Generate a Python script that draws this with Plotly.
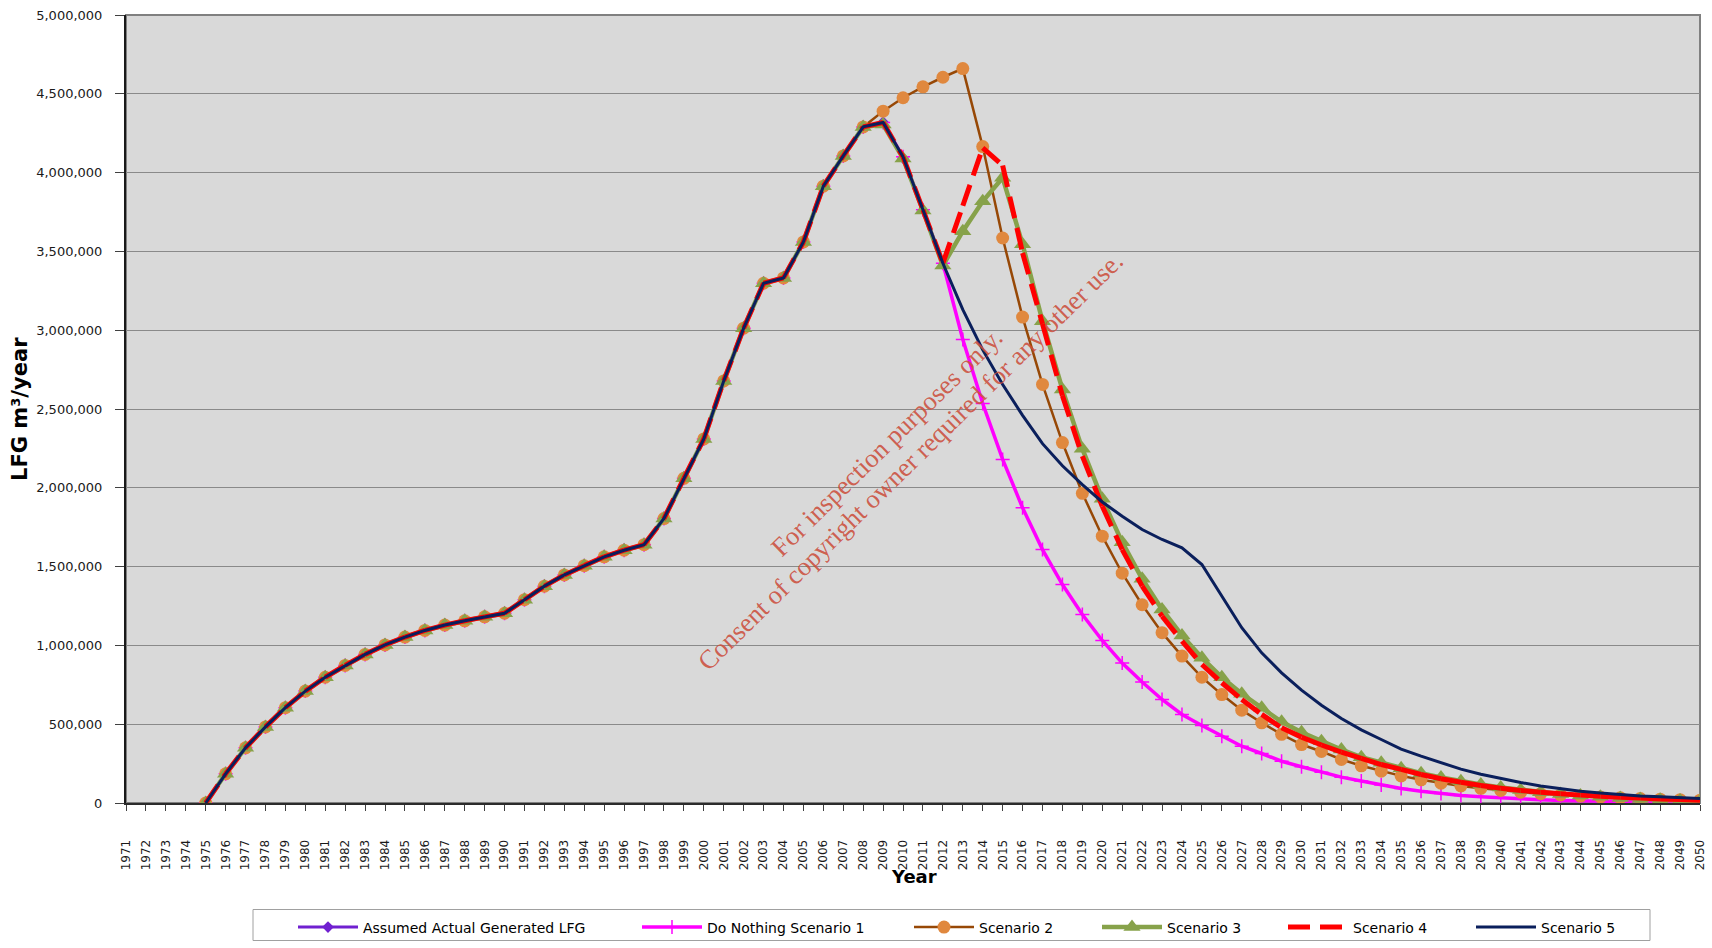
import plotly.graph_objects as go

# ---- data -------------------------------------------------------------
all_years = list(range(1971, 2051))
hist_years = list(range(1975, 2009))          # shared history
proj_years = list(range(2009, 2051))          # scenario period

history = [
    0, 185000, 350000, 483000, 605000, 710000, 798000, 873000, 943000, 1003000,
    1053000, 1095000, 1129000, 1156000, 1181000, 1204000, 1290000, 1376000,
    1447000, 1506000, 1562000, 1604000, 1639000, 1805000, 2060000, 2310000,
    2678000, 3013000, 3298000, 3332000, 3560000, 3914000, 4106000, 4290000,
]

actual_2009_2010 = [4320000, 4092000]

scenario1 = [
    4318000, 4100000, 3764000, 3425000, 2941000, 2535000, 2180000, 1873000,
    1608000, 1386000, 1196000, 1031000, 888000, 768000, 657000, 562000, 492000,
    424000, 360000, 314000, 265000, 230000, 195000, 164000, 140000, 115000,
    92000, 75000, 60000, 48000, 39000, 31000, 25000, 20000, 16000, 13000, 11000,
    9000, 7000, 6000, 5000, 4000,
]

scenario2 = [
    4390000, 4475000, 4544000, 4605000, 4660000, 4165000, 3585000, 3083000,
    2656000, 2287000, 1965000, 1693000, 1458000, 1258000, 1081000, 932000,
    798000, 688000, 589000, 509000, 436000, 371000, 327000, 276000, 236000,
    202000, 172000, 147000, 126000, 108000, 93000, 80000, 69000, 59000, 51000,
    44000, 38000, 33000, 28000, 24000, 21000, 18000,
]

scenario3 = [
    4305000, 4090000, 3760000, 3410000, 3628000, 3818000, 3967000, 3545000,
    3057000, 2624000, 2247000, 1930000, 1655000, 1423000, 1228000, 1063000,
    921000, 798000, 693000, 604000, 515000, 449000, 392000, 339000, 291000,
    255000, 220000, 189000, 162000, 138000, 117000, 98000, 82000, 68000, 57000,
    47000, 39000, 32000, 26000, 21000, 16000, 12000,
]

scenario4 = [
    4318000, 4100000, 3764000, 3425000, 3790000, 4157000, 4045000, 3490000,
    3040000, 2585000, 2201000, 1883000, 1608000, 1376000, 1185000, 1027000,
    879000, 763000, 657000, 562000, 477000, 418000, 368000, 323000, 283000,
    244000, 213000, 181000, 154000, 132000, 111000, 94000, 79000, 68000, 58000,
    50000, 43000, 37000, 31000, 26000, 22000, 18000,
]

scenario5 = [
    4318000, 4100000, 3764000, 3425000, 3130000, 2875000, 2655000, 2460000,
    2280000, 2140000, 2020000, 1910000, 1820000, 1735000, 1672000, 1619000,
    1513000, 1312000, 1112000, 953000, 826000, 716000, 620000, 536000, 464000,
    403000, 342000, 297000, 255000, 215000, 182000, 155000, 130000, 108000,
    90000, 75000, 63000, 53000, 45000, 39000, 33000, 29000,
]

y_ticks = list(range(0, 5000001, 500000))

# ---- styling ----------------------------------------------------------
FONT = "Verdana, DejaVu Sans, sans-serif"
SERIF = "Liberation Serif, Times New Roman, serif"
PLOT_BG = "#D9D9D9"
GRID = "#8A8A8A"
WATERMARK = "rgba(204,80,62,0.9)"

# pixel geometry of the plot area inside the 1712x948 page
L, R, T, B = 126, 1700, 15.5, 803.5


def px(xp):
    return (xp - L) / (R - L)


def py(yp):
    return (B - yp) / (B - T)


fig = go.Figure()


def full(proj):
    return hist_years + proj_years[:len(proj)], history + proj


# Assumed actual (purple, diamonds)
x, y = full(actual_2009_2010)
fig.add_trace(go.Scatter(
    x=x, y=y, name="Assumed Actual Generated LFG", mode="lines+markers",
    line=dict(color="#7020D0", width=3),
    marker=dict(symbol="diamond", size=9, color="#7020D0"),
    legendwidth=269,
))

# Do Nothing Scenario 1 (magenta, thin crosses)
x, y = full(scenario1)
fig.add_trace(go.Scatter(
    x=x, y=y, name="Do Nothing Scenario 1", mode="lines+markers",
    line=dict(color="#FF00FF", width=3.5),
    marker=dict(symbol="cross-thin", size=10, line=dict(color="#FF00FF", width=1.5)),
    legendwidth=197,
))

# Scenario 2 (brown line, orange circles)
x, y = full(scenario2)
fig.add_trace(go.Scatter(
    x=x, y=y, name="Scenario 2", mode="lines+markers",
    line=dict(color="#974806", width=2.5),
    marker=dict(symbol="circle", size=13, color="#E0883E"),
    legendwidth=113,
))

# Scenario 3 (olive green, triangles)
x, y = full(scenario3)
fig.add_trace(go.Scatter(
    x=x, y=y, name="Scenario 3", mode="lines+markers",
    line=dict(color="#87A24A", width=4.5),
    marker=dict(symbol="triangle-up", size=15, color="#87A24A"),
    legendwidth=111,
))

# Scenario 4 (red dashed) - each year-to-year segment is its own sub-path,
# so the dash pattern starts afresh on every segment
x4, y4 = full(scenario4)
seg_x, seg_y = [], []
for i in range(len(x4) - 1):
    seg_x += [x4[i], x4[i + 1], None]
    seg_y += [y4[i], y4[i + 1], None]
fig.add_trace(go.Scatter(
    x=seg_x, y=seg_y, name="Scenario 4", mode="lines", connectgaps=False,
    line=dict(color="#FF0000", width=5, dash="22px,10px"),
    legendwidth=113,
))

# Scenario 5 (navy)
x, y = full(scenario5)
fig.add_trace(go.Scatter(
    x=x, y=y, name="Scenario 5", mode="lines",
    line=dict(color="#0A1F5C", width=3),
    legendwidth=108,
))

# ---- layout -----------------------------------------------------------
fig.update_layout(
    width=1712, height=948,
    margin=dict(l=126, r=12, t=15, b=145, autoexpand=False),
    paper_bgcolor="white",
    plot_bgcolor=PLOT_BG,
    font=dict(family=FONT, size=13, color="#1a1a1a"),
    showlegend=True,
    legend=dict(
        orientation="h", x=px(293), xanchor="left", y=py(928), yanchor="middle",
        bgcolor="rgba(0,0,0,0)", borderwidth=0, itemwidth=60,
        font=dict(family=FONT, size=14, color="#000000"),
        traceorder="normal",
    ),
    xaxis=dict(
        range=[1971, 2050], tickmode="array", tickvals=all_years,
        ticktext=[str(v) for v in all_years], tickangle=-90,
        ticks="outside", ticklen=6, tickcolor="#404040",
        ticklabelstandoff=24, automargin=False,
        showgrid=False, zeroline=False,
        showline=True, linecolor="#2b2b2b", linewidth=2,
        tickfont=dict(family=FONT, size=12, color="#1a1a1a"),
    ),
    yaxis=dict(
        range=[0, 5000000], tickmode="array", tickvals=y_ticks,
        ticktext=[f"{v:,}" for v in y_ticks],
        ticks="outside", ticklen=9, tickcolor="#404040",
        ticklabelstandoff=10, automargin=False,
        showgrid=True, gridcolor=GRID, gridwidth=1, zeroline=False,
        showline=True, linecolor="#1a1a1a", linewidth=2,
        tickfont=dict(family=FONT, size=13, color="#1a1a1a"),
    ),
    shapes=[
        # plot-area frame
        dict(type="rect", xref="paper", yref="paper", x0=0, x1=1, y0=0, y1=1,
             line=dict(color="#808080", width=2), layer="below"),
        # legend frame
        dict(type="rect", xref="paper", yref="paper",
             x0=px(253), x1=px(1650), y0=py(941), y1=py(910),
             line=dict(color="#A0A0A0", width=1), fillcolor="white", layer="below"),
    ],
    annotations=[
        dict(text="<b>Year</b>", xref="paper", yref="paper",
             x=px(914), y=py(877), xanchor="center", yanchor="middle",
             showarrow=False, font=dict(family=FONT, size=18, color="#000000")),
        dict(text="<b>LFG m³/year</b>", xref="paper", yref="paper",
             x=px(20), y=py(409.5), xanchor="center", yanchor="middle",
             textangle=-90, showarrow=False,
             font=dict(family=FONT, size=21, color="#000000")),
        dict(text="For inspection purposes only.",
             xref="paper", yref="paper", x=px(887), y=py(443),
             xanchor="center", yanchor="middle", textangle=-44.5, showarrow=False,
             font=dict(family=SERIF, size=26.5, color=WATERMARK)),
        dict(text="Consent of copyright owner required for any other use.",
             xref="paper", yref="paper", x=px(910), y=py(461),
             xanchor="center", yanchor="middle", textangle=-44.5, showarrow=False,
             font=dict(family=SERIF, size=26.5, color=WATERMARK)),
    ],
)

fig.write_html("out.html")
